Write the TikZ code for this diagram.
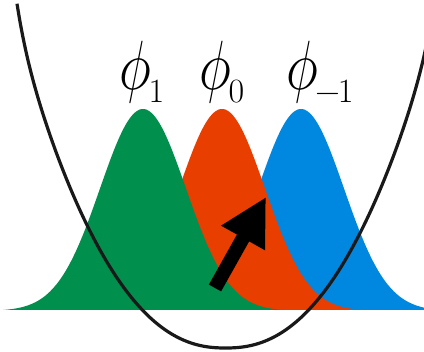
\documentclass[tikz,border=0pt]{standalone}
\usepackage{graphicx}
\usepackage{tikz}
\usetikzlibrary{arrows.meta}
\definecolor{phigreen}{RGB}{0,143,76}
\definecolor{phired}{RGB}{232,62,0}
\definecolor{phiblue}{RGB}{0,136,225}
\newcommand{\phisub}[1]{\scalebox{1.1}[1.4]{$\phi$}\kern-1.5pt\raisebox{-6.5pt}{\fontsize{17}{17}\selectfont #1}}
\begin{document}
\begin{tikzpicture}[x=0.5pt,y=-0.5pt,
  lbl/.style={anchor=base,inner sep=0pt,font=\fontsize{24.88}{25}\selectfont}]
\clip (0,0) rectangle (424,352);

\fill[phiblue] plot[domain=161:441,samples=120,smooth] (\x,{311-202*exp(-((\x-301)/43)^2/2)}) -- cycle;
\fill[phired] plot[domain=82:362,samples=120,smooth] (\x,{311-202*exp(-((\x-222)/43)^2/2)}) -- cycle;
\fill[phigreen] plot[domain=3:283,samples=120,smooth] (\x,{311-202*exp(-((\x-143)/43)^2/2)}) -- cycle;

\draw[line width=1.6pt,color=black!90] plot[domain=17:432,samples=150,smooth] (\x,{348-58.1*pow(abs(\x-225.5)/100+0.0001,2.3)-28*exp((abs(\x-225.5)-208)/10)});

\coordinate (ktail) at (215,288);
\coordinate (ktip) at (266,197);
\draw[line width=7pt,-{Triangle[length=23.5pt,width=23.5pt]}] (ktail) -- (ktip);

\node (phi1) at (142,90) [lbl] {\phisub{1}};
\node (phi0) at (222,90) [lbl] {\phisub{0}};
\node (phim1) at (320,90) [lbl] {\phisub{−\kern-1pt1}};

\end{tikzpicture}
\end{document}
